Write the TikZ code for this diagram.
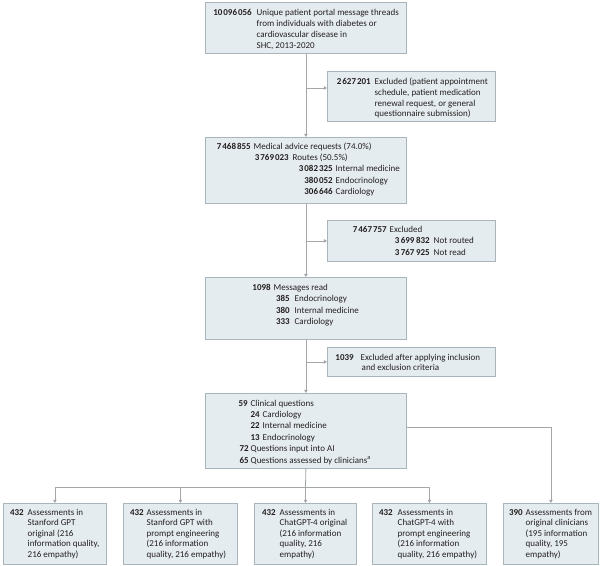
\documentclass[tikz,border=0pt]{standalone}
\usepackage{fontspec}
\setmainfont{Carlito}
\usetikzlibrary{arrows.meta}
\definecolor{boxfill}{HTML}{E5ECF0}
\definecolor{boxline}{HTML}{A9B4BB}
\definecolor{connc}{HTML}{A3A7AA}
\definecolor{txt}{HTML}{231F20}
\tikzset{
 box/.style={draw=boxline, fill=boxfill, line width=0.8bp, anchor=north west, inner sep=0pt},
 txtnode/.style={anchor=base west, inner sep=0pt, text=txt},
 conn/.style={draw=connc, line width=0.8bp},
 arr/.style={conn, -{Triangle[width=3.6bp,length=3.2bp]}},
}
\newcommand{\fl}[4]{\rlap{\hspace*{#1bp}\llap{\bfseries #2}}\rlap{\hspace*{#3bp}#4}}
\newcommand{\fs}[1]{\fontsize{9bp}{#1bp}\selectfont}
\newcommand{\tk}{\kern0.9bp}
\begin{document}
\begin{tikzpicture}[x=1bp,y=-1bp]
\useasboundingbox (0,0) rectangle (600,566);
% boxes
\node[box, minimum width=201bp, minimum height=51bp] (b1) at (205,2) {};
\node[box, minimum width=168bp, minimum height=50bp] (b2) at (327,71) {};
\node[box, minimum width=201bp, minimum height=66bp] (b3) at (205,137) {};
\node[box, minimum width=168bp, minimum height=41bp] (b4) at (327,220) {};
\node[box, minimum width=201bp, minimum height=62bp] (b5) at (205,277) {};
\node[box, minimum width=168bp, minimum height=29bp] (b6) at (327,347) {};
\node[box, minimum width=201bp, minimum height=75bp] (b7) at (205,393) {};
\node[box, minimum width=103bp, minimum height=61bp] (bA) at (3,503) {};
\node[box, minimum width=114bp, minimum height=61bp] (bB) at (123,503) {};
\node[box, minimum width=102bp, minimum height=61bp] (bC) at (254,503) {};
\node[box, minimum width=114bp, minimum height=61bp] (bD) at (372,503) {};
\node[box, minimum width=95bp, minimum height=61bp] (bE) at (503,503) {};
% texts
\node[txtnode, font=\fs{11}] (t1) at (205,16) {\begin{tabular}[t]{@{}l@{}}
\fl{46}{10\tk096\tk056}{51}{Unique patient portal message threads}\\
\fl{46}{}{51}{from individuals with diabetes or}\\
\fl{46}{}{51}{cardiovascular disease in}\\
\fl{46}{}{51}{SHC, 2013-2020}\end{tabular}};
\node[txtnode, font=\fs{10.8}] (t2) at (327,84.5) {\begin{tabular}[t]{@{}l@{}}
\fl{43}{2\tk627\tk201}{47}{Excluded (patient appointment}\\
\fl{43}{}{47}{schedule, patient medication}\\
\fl{43}{}{47}{renewal request, or general}\\
\fl{43}{}{47}{questionnaire submission)}\end{tabular}};
\node[txtnode, font=\fs{11}] (t3) at (205,150) {\begin{tabular}[t]{@{}l@{}}
\fl{45}{7\tk468\tk855}{48}{Medical advice requests (74.0\%)}\\
\fl{83}{3\tk769\tk023}{87}{Routes (50.5\%)}\\
\fl{127}{3\tk082\tk325}{130}{Internal medicine}\\
\fl{127}{380\tk052}{130}{Endocrinology}\\
\fl{127}{306\tk646}{130}{Cardiology}\end{tabular}};
\node[txtnode, font=\fs{11.8}] (t4) at (327,232) {\begin{tabular}[t]{@{}l@{}}
\fl{59}{7\tk467\tk757}{62}{Excluded}\\
\fl{102}{3\,699\,832}{106}{Not routed}\\
\fl{102}{3\,767\,925}{106}{Not read}\end{tabular}};
\node[txtnode, font=\fs{11.6}] (t5) at (205,290) {\begin{tabular}[t]{@{}l@{}}
\fl{65}{1098}{68}{Messages read}\\
\fl{84}{385}{89}{Endocrinology}\\
\fl{84}{380}{89}{Internal medicine}\\
\fl{84}{333}{89}{Cardiology}\end{tabular}};
\node[txtnode, font=\fs{10.5}] (t6) at (327,360) {\begin{tabular}[t]{@{}l@{}}
\fl{26}{1039}{33}{Excluded after applying inclusion}\\
\fl{26}{}{34}{and exclusion criteria}\end{tabular}};
\node[txtnode, font=\fs{11.4}] (t7) at (205,406) {\begin{tabular}[t]{@{}l@{}}
\fl{42}{59}{45}{Clinical questions}\\
\fl{54}{24}{57}{Cardiology}\\
\fl{54}{22}{57}{Internal medicine}\\
\fl{54}{13}{57}{Endocrinology}\\
\fl{43}{72}{45}{Questions input into AI}\\
\fl{43}{65}{45}{Questions assessed by clinicians\textsuperscript{a}}\end{tabular}};
\node[txtnode, font=\fs{10.5}] (tA) at (3,515) {\begin{tabular}[t]{@{}l@{}}
\fl{20}{432}{24}{Assessments in}\\
\fl{20}{}{24}{Stanford GPT}\\
\fl{20}{}{24}{original (216}\\
\fl{20}{}{24}{information quality,}\\
\fl{20}{}{24}{216 empathy)}\end{tabular}};
\node[txtnode, font=\fs{10.5}] (tB) at (123,515) {\begin{tabular}[t]{@{}l@{}}
\fl{20}{432}{23}{Assessments in}\\
\fl{20}{}{23}{Stanford GPT with}\\
\fl{20}{}{23}{prompt engineering}\\
\fl{20}{}{23}{(216 information}\\
\fl{20}{}{23}{quality, 216 empathy)}\end{tabular}};
\node[txtnode, font=\fs{10.5}] (tC) at (254,515) {\begin{tabular}[t]{@{}l@{}}
\fl{21}{432}{25}{Assessments in}\\
\fl{21}{}{25}{ChatGPT-4 original}\\
\fl{21}{}{25}{(216 information}\\
\fl{21}{}{25}{quality, 216}\\
\fl{21}{}{25}{empathy)}\end{tabular}};
\node[txtnode, font=\fs{10.5}] (tD) at (372,515) {\begin{tabular}[t]{@{}l@{}}
\fl{20}{432}{25}{Assessments in}\\
\fl{20}{}{25}{ChatGPT-4 with}\\
\fl{20}{}{25}{prompt engineering}\\
\fl{20}{}{25}{(216 information}\\
\fl{20}{}{25}{quality, 216 empathy)}\end{tabular}};
\node[txtnode, font=\fs{10.5}] (tE) at (503,515) {\begin{tabular}[t]{@{}l@{}}
\fl{19}{390}{22}{Assessments from}\\
\fl{19}{}{22}{original clinicians}\\
\fl{19}{}{22}{(195 information}\\
\fl{19}{}{22}{quality, 195}\\
\fl{19}{}{22}{empathy)}\end{tabular}};
% connectors
\coordinate (j1) at (305.5,88);
\coordinate (hj) at (305.5,487);
\draw[arr] (b1.south) -- (b3.north);
\draw[arr] (j1) -- (b2.west |- j1);
\draw[arr] (b3.south) -- (b5.north);
\draw[arr] (b3.south |- b4.west) -- (b4.west);
\draw[arr] (b5.south) -- (b7.north);
\draw[arr] (b5.south |- b6.west) -- (b6.west);
\draw[conn] (b7.south) -- (hj);
\draw[conn] (bA.north |- hj) -- (bD.north |- hj);
\draw[arr] (bA.north |- hj) -- (bA.north);
\draw[arr] (bB.north |- hj) -- (bB.north);
\draw[arr] (hj) -- (bC.north -| hj);
\draw[arr] (bD.north |- hj) -- (bD.north);
\draw[arr] (b7.east |- 0,427) -| (bE.north);
\end{tikzpicture}
\end{document}
